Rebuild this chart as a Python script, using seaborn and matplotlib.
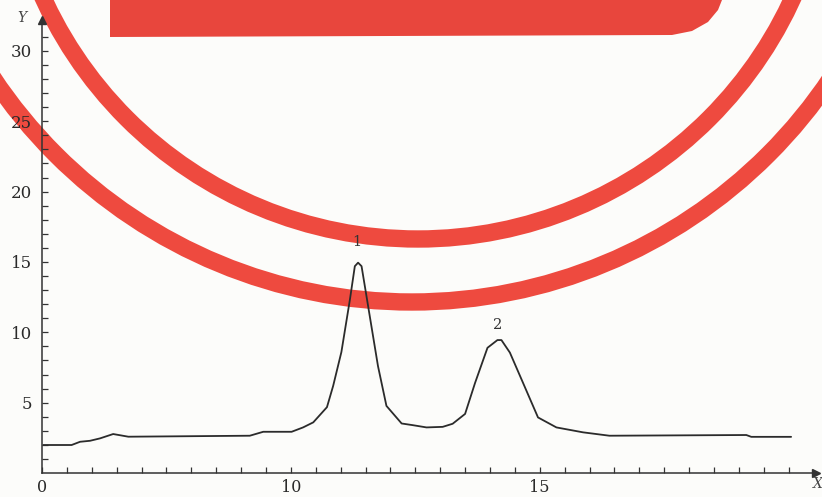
import numpy as np
import pandas as pd
import matplotlib
matplotlib.use("Agg")
import matplotlib.pyplot as plt
import matplotlib.patches as mpatches
import matplotlib.transforms as mtransforms
import seaborn as sns

# curve (x in tick steps along the printed axis)
x_pos = [0.05, 1.19, 1.53, 1.93, 2.33, 2.86, 3.47, 8.35, 8.89, 10.03, 10.49, 10.9,
         11.45, 11.7, 12.03, 12.37, 12.57, 12.7, 12.84, 13.1, 13.5, 13.84, 14.45,
         14.9, 15.45, 16.1, 16.5, 17.0, 17.4, 17.9, 18.3, 18.46, 18.8, 19.33,
         19.93, 20.67, 21.74, 22.8, 28.3, 28.5, 30.1]
y_val = [1.99, 1.99, 2.22, 2.29, 2.46, 2.77, 2.58, 2.65, 2.93, 2.93, 3.24, 3.6,
         4.68, 6.2, 8.6, 12.3, 14.7, 14.95, 14.7, 11.9, 7.6, 4.77, 3.52,
         3.4, 3.24, 3.28, 3.5, 4.2, 6.4, 8.9, 9.45, 9.45, 8.56, 6.4,
         3.95, 3.24, 2.89, 2.65, 2.7, 2.57, 2.57]

# peak labels
peak_names = ["1", "2"]
peak_x = [12.65, 18.3]
peak_y = [16.45, 10.5]

# axis labelling as printed
x_tick_pos = [0, 10, 20]
x_tick_text = ["0", "10", "15"]
y_tick_pos = [5, 10, 15, 20, 25, 30]

df = pd.DataFrame({"x": x_pos, "y": y_val})

sns.set_theme(style="white")
plt.rcParams["font.family"] = ["DejaVu Serif"]

fig = plt.figure(figsize=(8.22, 4.97), dpi=100)
fig.patch.set_facecolor("#fcfcfa")
ax = fig.add_axes([42 / 822, 24 / 497, 774 / 822, 453 / 497])
ax.patch.set_alpha(0)

sns.lineplot(data=df, x="x", y="y", ax=ax, color="#2b2b2b", linewidth=1.3)

for name, px, py in zip(peak_names, peak_x, peak_y):
    ax.text(px, py, name, ha="center", va="center", fontsize=10.5, color="#333333")

ax.set_xlim(0, 31.1)
ax.set_ylim(0, 32.2)
ax.set_xlabel("")
ax.set_ylabel("")

sns.despine(ax=ax)
for s in ["left", "bottom"]:
    ax.spines[s].set_color("#333333")
    ax.spines[s].set_linewidth(1.1)

ax.set_xticks(x_tick_pos)
ax.set_xticklabels(x_tick_text)
ax.set_xticks(np.arange(1, 31), minor=True)
ax.set_yticks(y_tick_pos)
ax.set_yticks(np.arange(1, 32), minor=True)
ax.tick_params(which="both", bottom=True, left=True, direction="in",
               length=4, width=0.9, color="#333333")
ax.tick_params(axis="x", which="major", pad=4, labelsize=11.5, labelcolor="#2a2a2a")
ax.tick_params(axis="y", which="major", pad=7, labelsize=12, labelcolor="#2a2a2a")

# arrow heads and axis names
ax.plot(1, 0, ">", color="#333333", ms=6, transform=ax.get_yaxis_transform(), clip_on=False)
ax.plot(0, 1, "^", color="#333333", ms=6, transform=ax.get_xaxis_transform(), clip_on=False)
ax.text(-0.026, 1.005, "Y", transform=ax.transAxes, ha="center", va="center",
        fontsize=10, style="italic", color="#444444")
ax.text(1.003, -0.024, "X", transform=ax.transAxes, ha="center", va="center",
        fontsize=10, style="italic", color="#444444")

# red seal stamped over the scan (pixel coords, drawn under the curve)
H = 497
ident = mtransforms.IdentityTransform()
red = "#ee4a3f"
for cx, cy, r in [(418, -173, 412), (412, -202, 504)]:
    fig.add_artist(mpatches.Circle((cx, H - cy), r, fill=False, edgecolor=red,
                                   linewidth=12.5, transform=ident, zorder=-1))
bar = [(110, -5), (110, 37), (672, 35), (692, 31), (708, 22), (718, 10), (724, -5)]
fig.add_artist(mpatches.Polygon([(px, H - py) for px, py in bar], closed=True,
                                facecolor="#e8463d", edgecolor="none",
                                transform=ident, zorder=-1))

fig.savefig("out.png", dpi=100)
